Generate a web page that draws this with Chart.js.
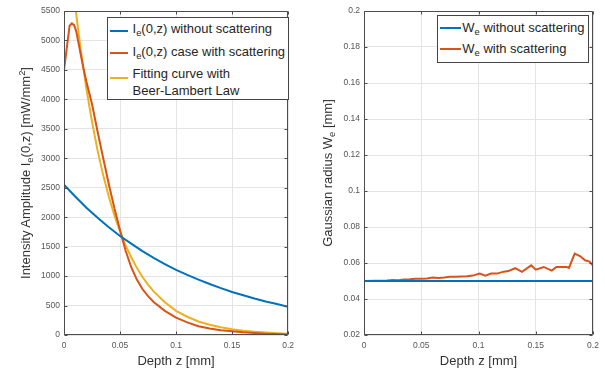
<!DOCTYPE html>
<html>
<head>
<meta charset="utf-8">
<script src="https://cdn.jsdelivr.net/npm/chart.js@4/dist/chart.umd.min.js"></script>
<style>
  body { margin: 0; background: #fff; }
  #page { position: relative; width: 605px; height: 375px; overflow: hidden;
    font-family: "Liberation Sans", Arial, Helvetica, sans-serif; color: #262626; }
  .wrap { position: absolute; top: 0; height: 375px; }
  .ytitle { position: absolute; width: 340px; height: 16px; line-height: 16px; font-size: 13px;
    text-align: center; white-space: nowrap; transform: rotate(-90deg); color: #333; }
  .lg { position: absolute; border: 1px solid #444; background: #fff; box-sizing: border-box; }
  .sw { position: absolute; height: 2px; }
  .tx { position: absolute; font-size: 13px; line-height: 15px; white-space: nowrap; color: #262626; }
  sub, sup { font-size: 0.72em; line-height: 0; }
  sub { vertical-align: -0.35em; }
  sup { vertical-align: 0.55em; }
</style>
</head>
<body>
<div id="page">
  <div class="wrap" style="left:0;width:300px"><canvas id="left"></canvas></div>
  <div class="wrap" style="left:300px;width:305px"><canvas id="right"></canvas></div>

  <div class="ytitle" style="left:-144.5px;top:165px">Intensity Amplitude I<sub>e</sub>(0,z) [mW/mm<sup>2</sup>]</div>
  <div class="ytitle" style="left:157.5px;top:165px">Gaussian radius W<sub>e</sub> [mm]</div>

  <div class="lg" style="left:107px;top:17px;width:182px;height:83px">
    <div class="sw" style="left:2px;top:12px;width:18px;background:#0072BD"></div>
    <div class="tx" style="left:24.5px;top:3.3px">I<sub>e</sub>(0,z) without scattering</div>
    <div class="sw" style="left:2px;top:33.7px;width:18px;background:#D95319"></div>
    <div class="tx" style="left:24.5px;top:26px">I<sub>e</sub>(0,z) case with scattering</div>
    <div class="sw" style="left:2px;top:59.3px;width:18px;background:#EDB120"></div>
    <div class="tx" style="left:24.5px;top:47px;line-height:17px">Fitting curve with<br>Beer-Lambert Law</div>
  </div>

  <div class="lg" style="left:437px;top:15px;width:152px;height:48px">
    <div class="sw" style="left:2px;top:10.7px;width:21px;background:#0072BD"></div>
    <div class="tx" style="left:24.3px;top:3.7px">W<sub>e</sub> without scattering</div>
    <div class="sw" style="left:2px;top:32.3px;width:21px;background:#D95319"></div>
    <div class="tx" style="left:24.3px;top:25.3px">W<sub>e</sub> with scattering</div>
  </div>
</div>
<script>
// left panel: intensity on axis vs depth z [mm]
const zNoScat = [0, 0.01, 0.02, 0.03, 0.04, 0.05, 0.06, 0.07, 0.08, 0.09, 0.1,
  0.11, 0.12, 0.13, 0.14, 0.15, 0.16, 0.17, 0.18, 0.19, 0.2];
const iNoScat = [2550, 2350, 2160, 1990, 1830, 1680, 1550, 1425, 1310, 1205, 1105,
  1020, 940, 865, 795, 730, 675, 620, 570, 525, 480];

const zScat = [0, 0.005, 0.007, 0.009, 0.011, 0.013, 0.017, 0.02, 0.025, 0.03, 0.035,
  0.04, 0.045, 0.05, 0.055, 0.06, 0.065, 0.07, 0.075, 0.08, 0.09, 0.1,
  0.11, 0.12, 0.13, 0.14, 0.15, 0.16, 0.17, 0.18, 0.19, 0.2];
const iScat = [4500, 5250, 5290, 5260, 5150, 4950, 4560, 4300, 3920, 3450, 3000,
  2560, 2150, 1780, 1430, 1150, 940, 780, 660, 560, 410, 295,
  215, 150, 110, 82, 65, 45, 32, 22, 15, 10];

const zFit = [0, 0.005, 0.01, 0.015, 0.02, 0.025, 0.03, 0.035, 0.04, 0.045, 0.05,
  0.055, 0.06, 0.065, 0.07, 0.075, 0.08, 0.09, 0.1, 0.11, 0.12, 0.13,
  0.14, 0.15, 0.16, 0.17, 0.18, 0.19, 0.2];
const iFit = [7450, 6450, 5580, 4830, 4180, 3620, 3130, 2710, 2350, 2030, 1760,
  1520, 1320, 1140, 985, 855, 740, 555, 410, 310, 230, 175,
  130, 97, 73, 55, 41, 30, 23];

// right panel: Gaussian radius vs depth z [mm]
const zWNoScat = [0, 0.2];
const wNoScat = [0.05, 0.05];

const zWScat = [0, 0.01, 0.02, 0.025, 0.03, 0.035, 0.04, 0.045, 0.05, 0.055, 0.06,
  0.065, 0.07, 0.075, 0.08, 0.085, 0.09, 0.095,
  0.101, 0.106, 0.111, 0.116, 0.122, 0.126, 0.132, 0.138, 0.146, 0.15,
  0.157, 0.164, 0.168, 0.177, 0.179, 0.184, 0.189, 0.193, 0.197, 0.2];
const wScat = [0.05, 0.0501, 0.0503, 0.0505, 0.0504, 0.0509, 0.051, 0.0512, 0.0513, 0.0514, 0.0519,
  0.0517, 0.0519, 0.0524, 0.0523, 0.0525, 0.0526, 0.053,
  0.0541, 0.053, 0.0541, 0.0541, 0.0552, 0.0555, 0.0571, 0.0551, 0.0587, 0.0563,
  0.0578, 0.0558, 0.0578, 0.0578, 0.0573, 0.0652, 0.0637, 0.0615, 0.0608, 0.0585];

const xTicks = { min: 0, max: 0.2, step: 0.05 };
const FONT = '"Liberation Sans", Arial, Helvetica, sans-serif';
const BLUE = '#0072BD', RED = '#D95319', YELLOW = '#EDB120';

const pts = (xs, ys) => xs.map((x, i) => ({ x, y: ys[i] }));
const fmt = v => String(+(+v).toFixed(4));

// matlab style box with inward ticks on all four sides
const boxPlugin = {
  id: 'box',
  afterDatasetsDraw(chart) {
    const { ctx, chartArea: a, scales: { x, y } } = chart;
    const L = Math.round(a.left) + 0.5, R = Math.round(a.right) - 0.5;
    const T = Math.round(a.top) + 0.5, B = Math.round(a.bottom) - 0.5;
    ctx.save();
    ctx.strokeStyle = '#4d4d4d';
    ctx.lineWidth = 1;
    ctx.beginPath();
    ctx.rect(L, T, R - L, B - T);
    x.ticks.forEach(t => {
      const px = Math.round(x.getPixelForValue(t.value)) + 0.5;
      ctx.moveTo(px, B); ctx.lineTo(px, B - 3);
      ctx.moveTo(px, T); ctx.lineTo(px, T + 3);
    });
    y.ticks.forEach(t => {
      const py = Math.round(y.getPixelForValue(t.value)) + 0.5;
      ctx.moveTo(L, py); ctx.lineTo(L + 3, py);
      ctx.moveTo(R, py); ctx.lineTo(R - 3, py);
    });
    ctx.stroke();
    ctx.restore();
  }
};

function makeOptions(yMin, yMax, yStep, padRight) {
  return {
    animation: false,
    responsive: true,
    maintainAspectRatio: false,
    layout: { padding: { top: 11, right: padRight, left: 0, bottom: 0 } },
    plugins: { legend: { display: false }, tooltip: { enabled: false } },
    elements: { point: { radius: 0 }, line: { borderWidth: 2, tension: 0 } },
    scales: {
      x: {
        type: 'linear', min: xTicks.min, max: xTicks.max,
        afterFit(s) { s.height = 40; },
        ticks: { stepSize: xTicks.step, padding: 6, color: '#555', font: { family: FONT, size: 8.5 },
          callback: fmt, maxRotation: 0 },
        grid: { color: '#e4e4e4', drawTicks: false },
        border: { display: false },
        title: { display: true, text: 'Depth z [mm]', color: '#333',
          font: { family: FONT, size: 13, lineHeight: 1.2 }, padding: { top: 0, bottom: 6 } },
      },
      y: {
        type: 'linear', min: yMin, max: yMax,
        afterFit(s) { s.width = 64; },
        ticks: { stepSize: yStep, padding: 4, color: '#555', font: { family: FONT, size: 8.5 },
          callback: fmt },
        grid: { color: '#e4e4e4', drawTicks: false },
        border: { display: false },
      },
    },
  };
}

new Chart(document.getElementById('left'), {
  type: 'scatter',
  data: {
    datasets: [
      { label: 'Ie(0,z) without scattering', data: pts(zNoScat, iNoScat), borderColor: BLUE, showLine: true, clip: 0 },
      { label: 'Ie(0,z) case with scattering', data: pts(zScat, iScat), borderColor: RED, showLine: true, clip: 0 },
      { label: 'Fitting curve with Beer-Lambert Law', data: pts(zFit, iFit), borderColor: YELLOW, showLine: true, clip: 0 },
    ],
  },
  options: makeOptions(0, 5500, 500, 8),
  plugins: [boxPlugin],
});

new Chart(document.getElementById('right'), {
  type: 'scatter',
  data: {
    datasets: [
      { label: 'We without scattering', data: pts(zWNoScat, wNoScat), borderColor: BLUE, showLine: true, clip: 0 },
      { label: 'We with scattering', data: pts(zWScat, wScat), borderColor: RED, showLine: true, clip: 0 },
    ],
  },
  options: makeOptions(0.02, 0.2, 0.02, 12),
  plugins: [boxPlugin],
});
</script>
</body>
</html>
